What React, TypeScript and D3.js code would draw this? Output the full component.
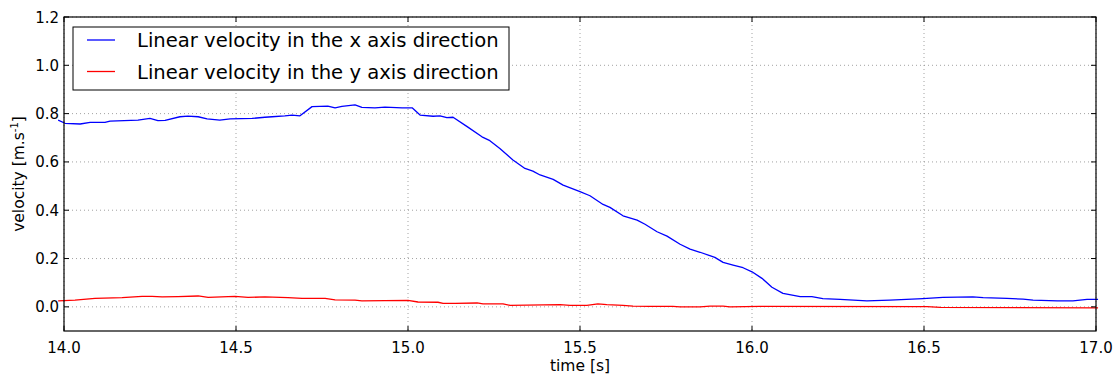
import { line, scaleLinear } from "d3";

const timeX = [
    13.983, 14.003, 14.047, 14.076, 14.119, 14.134, 14.215, 14.25, 14.273, 14.294,
    14.337, 14.36, 14.39, 14.416, 14.453, 14.483, 14.547, 14.584, 14.605, 14.642,
    14.663, 14.686, 14.721, 14.767, 14.788, 14.808, 14.846, 14.866, 14.904, 14.933,
    14.983, 15.012, 15.035, 15.073, 15.093, 15.113, 15.131, 15.172, 15.215, 15.238,
    15.267, 15.305, 15.34, 15.363, 15.384, 15.422, 15.451, 15.5, 15.529, 15.567,
    15.587, 15.625, 15.666, 15.689, 15.724, 15.753, 15.791, 15.82, 15.849, 15.892,
    15.916, 15.945, 15.974, 16.0, 16.029, 16.058, 16.09, 16.14, 16.174, 16.206,
    16.256, 16.334, 16.401, 16.497, 16.555, 16.642, 16.672, 16.741, 16.788, 16.817,
    16.887, 16.933, 16.974, 17.006,
];
const velocityX = [
    0.773, 0.76, 0.757, 0.764, 0.764, 0.769, 0.773, 0.78, 0.771, 0.772,
    0.787, 0.79, 0.787, 0.778, 0.773, 0.778, 0.78, 0.785, 0.787, 0.791,
    0.794, 0.791, 0.829, 0.831, 0.824, 0.83, 0.836, 0.826, 0.824, 0.827,
    0.824, 0.824, 0.794, 0.789, 0.791, 0.783, 0.785, 0.746, 0.704, 0.688,
    0.656, 0.608, 0.573, 0.562, 0.546, 0.528, 0.504, 0.477, 0.46, 0.424,
    0.412, 0.377, 0.359, 0.342, 0.311, 0.293, 0.259, 0.239, 0.226, 0.205,
    0.184, 0.173, 0.162, 0.145, 0.118, 0.081, 0.056, 0.042, 0.042, 0.034,
    0.031, 0.025, 0.028, 0.034, 0.039, 0.041, 0.038, 0.035, 0.032, 0.028,
    0.025, 0.025, 0.031, 0.031,
];

const timeY = [
    13.983, 14.032, 14.09, 14.169, 14.227, 14.256, 14.285, 14.331, 14.39, 14.419,
    14.497, 14.535, 14.584, 14.651, 14.692, 14.759, 14.788, 14.846, 14.866, 15.0,
    15.029, 15.087, 15.102, 15.137, 15.201, 15.218, 15.276, 15.297, 15.442, 15.471,
    15.52, 15.552, 15.578, 15.625, 15.654, 15.703, 15.77, 15.791, 15.849, 15.878,
    15.916, 15.936, 16.023, 16.509, 16.547, 17.006,
];
const velocityY = [
    0.025, 0.028, 0.035, 0.038, 0.043, 0.043, 0.041, 0.042, 0.045, 0.039,
    0.043, 0.039, 0.041, 0.038, 0.035, 0.035, 0.029, 0.028, 0.025, 0.027,
    0.02, 0.019, 0.014, 0.014, 0.016, 0.012, 0.012, 0.006, 0.009, 0.006,
    0.006, 0.012, 0.009, 0.006, 0.003, 0.002, 0.002, 0.0, 0.0, 0.003,
    0.003, 0.0, 0.002, 0.001, -0.002, -0.004,
];

const xTicks = [14.0, 14.5, 15.0, 15.5, 16.0, 16.5, 17.0];
const yTicks = [0.0, 0.2, 0.4, 0.6, 0.8, 1.0, 1.2];

const seriesNames = [
    "Linear velocity in the x axis direction",
    "Linear velocity in the y axis direction",
];
const seriesColors = ["#0000ff", "#ff0000"];

type Pt = { t: number; v: number };

export default function App() {
    const width = 1119;
    const height = 376;
    const margin = { top: 17, right: 23, bottom: 45, left: 64 };
    const font = "DejaVu Sans, sans-serif";

    const x = scaleLinear().domain([14, 17]).range([margin.left, width - margin.right]);
    const y = scaleLinear().domain([-0.1, 1.2]).range([height - margin.bottom, margin.top]);

    const path = line<Pt>()
        .x((d) => x(d.t))
        .y((d) => y(d.v));

    const series: Pt[][] = [
        timeX.map((t, i) => ({ t, v: velocityX[i] })),
        timeY.map((t, i) => ({ t, v: velocityY[i] })),
    ];

    const x0 = x.range()[0];
    const x1 = x.range()[1];
    const yTop = y.range()[1];
    const yBot = y.range()[0];
    const tick = 5;

    return (
        <svg
            width={width}
            height={height}
            style={{ position: "fixed", left: 0, top: 0, background: "#fff" }}
        >
            {/* Grid */}
            {xTicks.map((t) => (
                <line key={`gx${t}`} x1={x(t)} x2={x(t)} y1={yTop} y2={yBot}
                    stroke="#8a8a8a" strokeWidth={0.8} strokeDasharray="1 3" />
            ))}
            {yTicks.map((t) => (
                <line key={`gy${t}`} x1={x0} x2={x1} y1={y(t)} y2={y(t)}
                    stroke="#8a8a8a" strokeWidth={0.8} strokeDasharray="1 3" />
            ))}

            {/* Lines */}
            {series.map((s, i) => (
                <path key={i} d={path(s) ?? ""} fill="none" stroke={seriesColors[i]}
                    strokeWidth={1.3} strokeLinejoin="round" />
            ))}

            {/* Frame and inner ticks */}
            <rect x={x0} y={yTop} width={x1 - x0} height={yBot - yTop} fill="none" stroke="#000" strokeWidth={1.2} />
            {xTicks.map((t) => (
                <g key={`tx${t}`}>
                    <line x1={x(t)} x2={x(t)} y1={yBot} y2={yBot - tick} stroke="#000" />
                    <line x1={x(t)} x2={x(t)} y1={yTop} y2={yTop + tick} stroke="#000" />
                    <text x={x(t)} y={yBot + 22} textAnchor="middle" fontSize={15} fontFamily={font}>
                        {t.toFixed(1)}
                    </text>
                </g>
            ))}
            {yTicks.map((t) => (
                <g key={`ty${t}`}>
                    <line x1={x0} x2={x0 + tick} y1={y(t)} y2={y(t)} stroke="#000" />
                    <line x1={x1} x2={x1 - tick} y1={y(t)} y2={y(t)} stroke="#000" />
                    <text x={x0 - 5} y={y(t) + 5.5} textAnchor="end" fontSize={15} fontFamily={font}>
                        {t.toFixed(1)}
                    </text>
                </g>
            ))}

            {/* Axis titles */}
            <text x={(x0 + x1) / 2} y={height - 5} textAnchor="middle" fontSize={15.5} fontFamily={font}>
                time [s]
            </text>
            <text
                transform={`translate(24, ${(yTop + yBot) / 2}) rotate(-90)`}
                textAnchor="middle"
                fontSize={15.5}
                fontFamily={font}
            >
                velocity [m.s<tspan dy={-6} fontSize={10}>-1</tspan><tspan dy={6}>]</tspan>
            </text>

            {/* Legend */}
            <rect x={73} y={27} width={436} height={63} fill="#fff" stroke="#000" strokeWidth={1} />
            {seriesNames.map((name, i) => {
                const ly = 40 + i * 31.5;
                return (
                    <g key={name}>
                        <line x1={87} x2={115} y1={ly} y2={ly} stroke={seriesColors[i]} strokeWidth={1.3} />
                        <text x={137} y={ly + 7} fontSize={19.6} fontFamily={font}>
                            {name}
                        </text>
                    </g>
                );
            })}
        </svg>
    );
}
